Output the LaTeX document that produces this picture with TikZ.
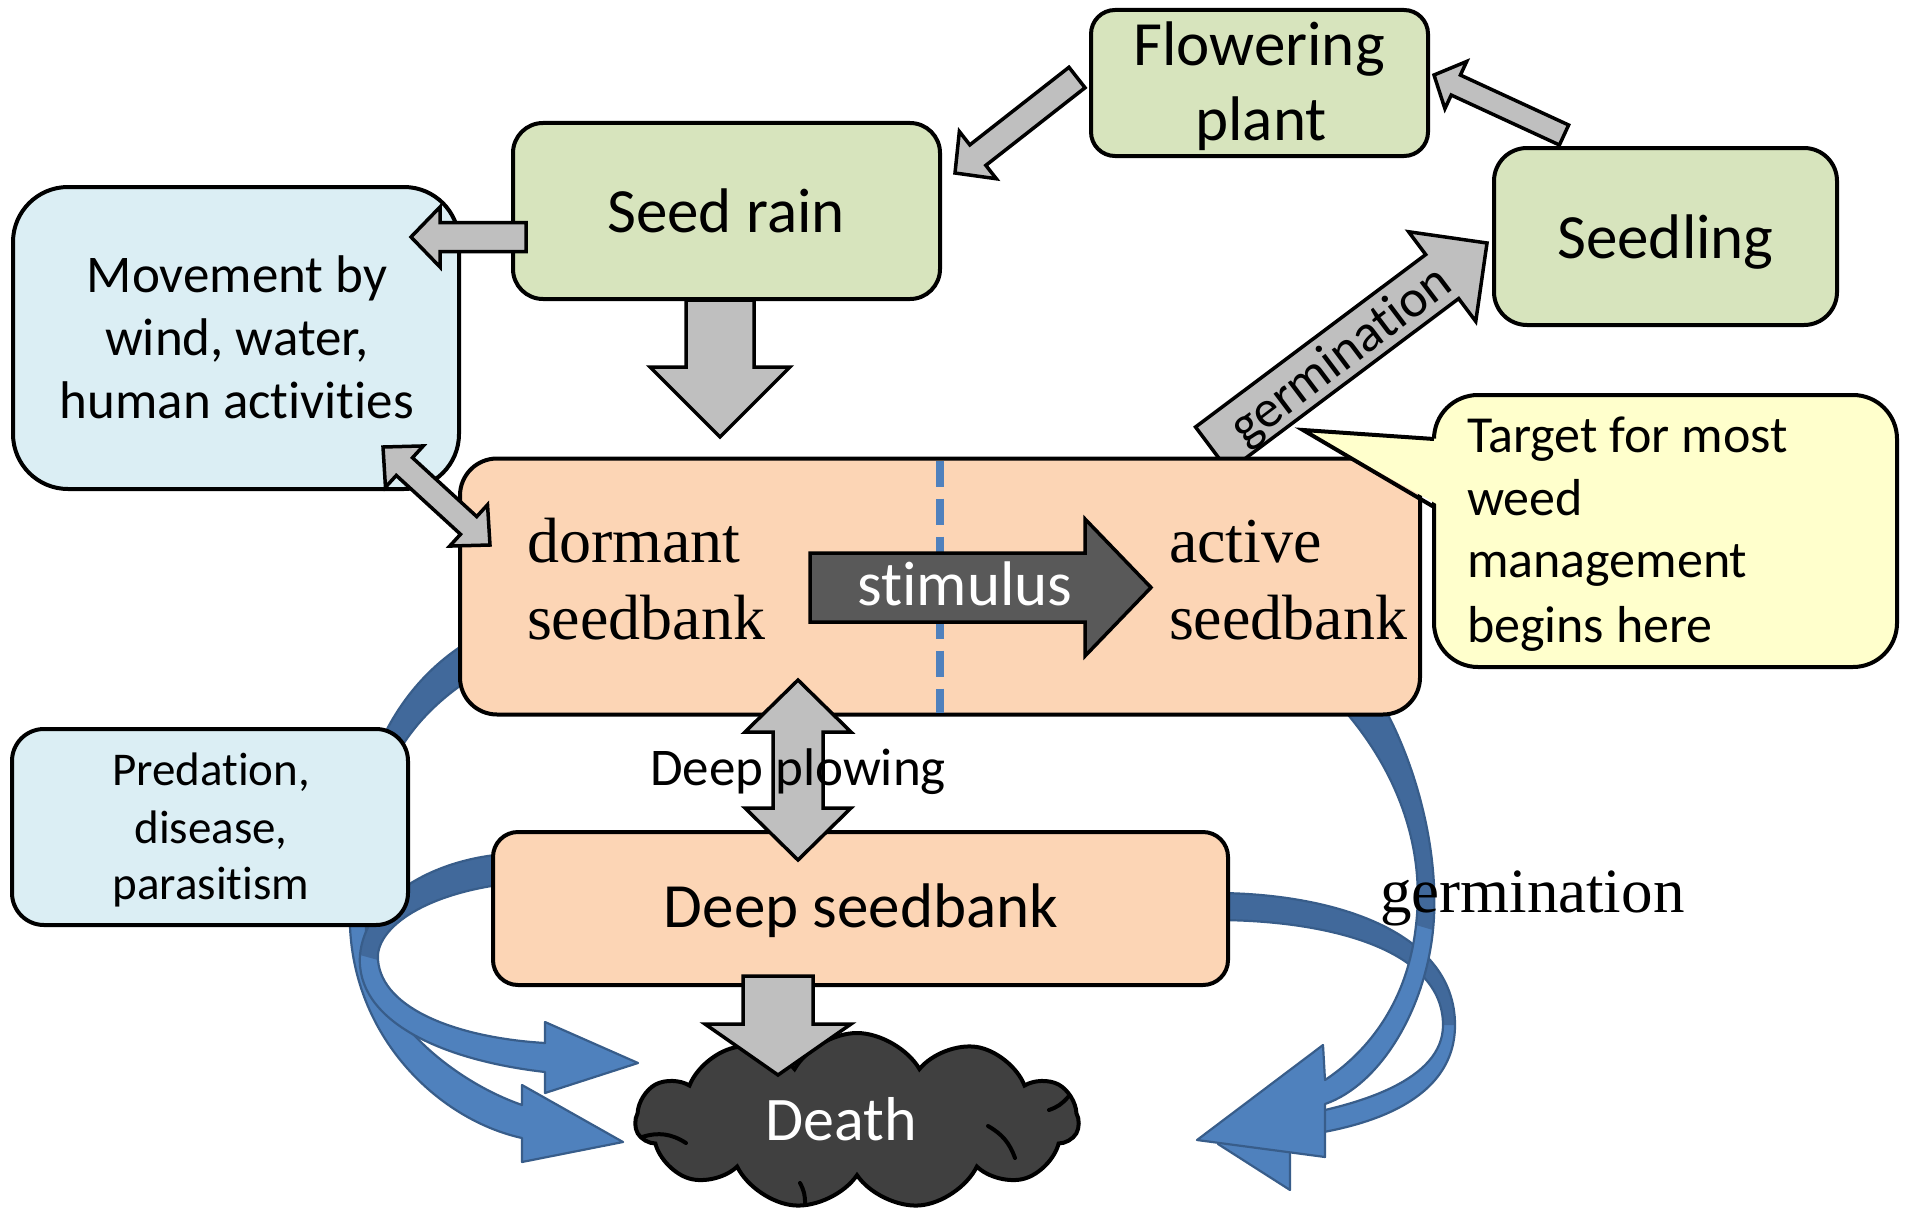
\documentclass[tikz,border=0pt]{standalone}
\usepackage{fontspec}
\setmainfont{Carlito}[Ligatures=NoCommon]
\newfontfamily\tnr{Liberation Serif}
\usetikzlibrary{calc,shapes.symbols}
\definecolor{grn}{HTML}{D7E4BD}
\definecolor{lblue}{HTML}{DBEEF4}
\definecolor{peach}{HTML}{FCD5B5}
\definecolor{lyel}{HTML}{FFFFCC}
\definecolor{gryA}{HTML}{BFBFBF}
\definecolor{dkgry}{HTML}{595959}
\definecolor{cloudc}{HTML}{404040}
\definecolor{bluF}{HTML}{4F81BD}
\definecolor{bluE}{HTML}{385D8A}
\definecolor{bluD}{HTML}{41699B}
\newcommand\fsz[1]{\fontsize{#1pt}{#1pt}\selectfont}
% block arrow: style, tail, tip, shaft half-width, head half-width, head length
\newcommand\blockarr[6]{%
  \coordinate (bahd) at ($(#3)!#6!(#2)$);
  \draw[#1] ($(#2)!#4!90:(#3)$) -- ($(bahd)!#4!90:(#3)$) -- ($(bahd)!#5!90:(#3)$) -- (#3)
    -- ($(bahd)!#5!-90:(#3)$) -- ($(bahd)!#4!-90:(#3)$) -- ($(#2)!#4!-90:(#3)$) -- cycle;}
% double block arrow: style, end A, end B, shaft half-width, head half-width, head length
\newcommand\dblarr[6]{%
  \coordinate (dahA) at ($(#2)!#6!(#3)$);
  \coordinate (dahB) at ($(#3)!#6!(#2)$);
  \draw[#1] (#2) -- ($(dahA)!#5!90:(#3)$) -- ($(dahA)!#4!90:(#3)$) -- ($(dahB)!#4!-90:(#2)$)
    -- ($(dahB)!#5!-90:(#2)$) -- (#3) -- ($(dahB)!#5!90:(#2)$) -- ($(dahB)!#4!90:(#2)$)
    -- ($(dahA)!#4!-90:(#3)$) -- ($(dahA)!#5!-90:(#3)$) -- cycle;}
% curved blue arrows
\def\pDeep{(1215,893) .. controls (1330,893) and (1455,930) .. (1455,1025) .. controls (1455,1100) and (1370,1128) .. (1290,1137) -- (1290,1190) -- (1218,1144) -- (1290,1100) -- (1290,1117) .. controls (1360,1105) and (1443,1080) .. (1443,1025) .. controls (1443,950) and (1330,920) .. (1215,920) -- cycle}
\def\pDeepBack{(1215,893) .. controls (1330,893) and (1455,930) .. (1455,1025) -- (1443,1025) .. controls (1443,950) and (1330,920) .. (1215,920) -- cycle}
\def\pGerm{(1380,700) .. controls (1420,770) and (1440,860) .. (1433,930) .. controls (1425,1010) and (1380,1085) .. (1325,1104) -- (1325,1157) -- (1197,1140) -- (1323,1045) -- (1325,1080) .. controls (1370,1050) and (1408,1000) .. (1416,925) .. controls (1425,850) and (1400,770) .. (1335,700) -- cycle}
\def\pGermBack{(1380,700) .. controls (1420,770) and (1440,860) .. (1433,930) -- (1416,925) .. controls (1425,850) and (1400,770) .. (1335,700) -- cycle}
\def\pOut{(478,636) .. controls (380,690) and (345,800) .. (350,927) .. controls (355,1040) and (440,1120) .. (522,1138) -- (522,1162) -- (623,1142) -- (522,1085) -- (522,1105) .. controls (450,1080) and (365,1010) .. (366,927) .. controls (365,830) and (370,735) .. (488,668) -- cycle}
\def\pOutBack{(478,636) .. controls (380,690) and (345,800) .. (350,927) -- (366,927) .. controls (365,830) and (370,735) .. (488,668) -- cycle}
\def\pIn{(505,884) .. controls (420,895) and (375,930) .. (378,960) .. controls (382,1010) and (460,1038) .. (545,1043) -- (545,1022) -- (638,1063) -- (545,1093) -- (545,1072) .. controls (440,1060) and (355,1020) .. (360,955) .. controls (365,900) and (430,860) .. (505,854) -- cycle}
\def\pInBack{(505,884) .. controls (420,895) and (375,930) .. (378,960) -- (360,955) .. controls (365,900) and (430,860) .. (505,854) -- cycle}
\tikzset{
  boxst/.style={rectangle, draw=black, line width=4pt, inner sep=0pt, outer sep=0pt},
  lbl/.style={inner sep=0pt, outer sep=0pt, anchor=base},
  lblw/.style={inner sep=0pt, outer sep=0pt, anchor=base west},
  grayarr/.style={draw=black, fill=gryA, line width=3.5pt, line join=miter, miter limit=20},
  stimarr/.style={draw=black, fill=dkgry, line width=3.5pt, line join=miter, miter limit=20},
  blueline/.style={draw=bluE, line width=2.2pt, line join=round},
  cloudarc/.style={draw=black, line width=4pt, line cap=round},
}
\begin{document}
\begin{tikzpicture}[x=1pt,y=-1pt]
\useasboundingbox (0,0) rectangle (1910,1212);
% ---- blue curved arrows (behind boxes)
\fill[bluF] \pDeep; \fill[bluD] \pDeepBack; \draw[blueline] \pDeep;
\fill[bluF] \pGerm; \fill[bluD] \pGermBack; \draw[blueline] \pGerm;
\fill[bluF] \pOut; \fill[bluD] \pOutBack; \draw[blueline] \pOut;
\fill[bluF] \pIn; \fill[bluD] \pInBack; \draw[blueline] \pIn;
% ---- germination block arrow (tail behind seedbank)
\coordinate (a5t) at (1212,449); \coordinate (a5h) at (1487,243);
\blockarr{grayarr}{a5t}{a5h}{27.5pt}{56pt}{56pt}
\node[font=\fsz{53}, rotate=37, inner sep=0pt] (tgerm1) at (1342,357) {germination};
% ---- boxes
\node[boxst, fill=grn, rounded corners=24pt, minimum width=337pt, minimum height=146pt] (flower) at (1259.5,83) {};
\node[boxst, fill=grn, rounded corners=33pt, minimum width=343pt, minimum height=177pt] (seedling) at (1665.5,236.5) {};
\node[boxst, fill=grn, rounded corners=30pt, minimum width=427pt, minimum height=176pt] (seedrain) at (726.5,211) {};
\node[boxst, fill=lblue, rounded corners=55pt, minimum width=446pt, minimum height=302pt] (movement) at (236,338) {};
\node[boxst, fill=peach, rounded corners=37pt, minimum width=960pt, minimum height=256pt] (seedbank) at (940,586.5) {};
\node[boxst, fill=peach, rounded corners=25pt, minimum width=735pt, minimum height=153pt] (deep) at (860.5,908.5) {};
\node[boxst, fill=lblue, rounded corners=32pt, minimum width=396pt, minimum height=196pt] (predation) at (210,827) {};
\draw[bluF, line width=8pt, dash pattern=on 26pt off 12pt] ([yshift=-2pt]seedbank.north) -- ([yshift=2pt]seedbank.south);
\node[cloud, cloud puffs=11, cloud puff arc=120, cloud ignores aspect, minimum width=443pt, minimum height=176pt, draw=black, line width=4pt, fill=cloudc, inner sep=0pt] (death) at (857,1121) {};
\draw[cloudarc] (642,1137) to[bend left=25] (686,1143);
\draw[cloudarc] (988,1126) to[bend left=20] (1015,1158);
\draw[cloudarc] (1049,1110) to[bend right=15] (1068,1097);
\draw[cloudarc] (800,1183) to[bend left=15] (805,1204);
% ---- box texts
\node[lbl, font=\fsz{63}] (tflower1) at (1259,66) {Flowering};
\node[lbl, font=\fsz{63}] (tflower2) at (1261,140) {plant};
\node[lbl, font=\fsz{63}] (tseedrain) at (726,232) {Seed rain};
\node[lbl, font=\fsz{63}] (tseedling) at (1665.5,258) {Seedling};
\node[lbl, font=\fsz{53}] (tmov1) at (237,292) {Movement by};
\node[lbl, font=\fsz{53}] (tmov2) at (237,355) {wind, water,};
\node[lbl, font=\fsz{53}] (tmov3) at (237,418) {human activities};
\node[lblw, font=\tnr\fsz{64}] (tdorm1) at (527,562) {dormant};
\node[lblw, font=\tnr\fsz{64}] (tdorm2) at (527,639) {seedbank};
\node[lblw, font=\tnr\fsz{64}] (tact1) at (1169,562) {active};
\node[lblw, font=\tnr\fsz{64}] (tact2) at (1169,639) {seedbank};
\node[lbl, font=\fsz{63}] (tdeep) at (861,927) {Deep seedbank};
\node[lbl, font=\fsz{47}] (tpred1) at (211,785) {Predation,};
\node[lbl, font=\fsz{47}] (tpred2) at (211,843) {disease,};
\node[lbl, font=\fsz{47}] (tpred3) at (211,899) {parasitism};
% ---- gray block arrows
\coordinate (a1t) at (720,300); \coordinate (a1h) at (720,437);
\blockarr{grayarr}{a1t}{a1h}{34pt}{70pt}{70pt}
\coordinate (a2t) at (526,237); \coordinate (a2h) at (411,237);
\blockarr{grayarr}{a2t}{a2h}{14.5pt}{30pt}{29pt}
\coordinate (a3t) at (1077,77.5); \coordinate (a3h) at (955,173);
\blockarr{grayarr}{a3t}{a3h}{13pt}{30pt}{29pt}
\coordinate (a4t) at (1564,135); \coordinate (a4h) at (1434,75);
\blockarr{grayarr}{a4t}{a4h}{11pt}{26pt}{24pt}
\coordinate (d1a) at (383,447); \coordinate (d1b) at (490,545);
\dblarr{grayarr}{d1a}{d1b}{12pt}{28pt}{29pt}
\coordinate (d2a) at (798,680); \coordinate (d2b) at (798,860);
\dblarr{grayarr}{d2a}{d2b}{25pt}{53pt}{52pt}
\coordinate (a6t) at (778,976); \coordinate (a6h) at (778,1075);
\blockarr{grayarr}{a6t}{a6h}{35pt}{73pt}{51pt}
% ---- stimulus arrow
\coordinate (stt) at (810,587.5); \coordinate (sth) at (1151,587.5);
\blockarr{stimarr}{stt}{sth}{34.5pt}{68.5pt}{66pt}
\node[lbl, font=\fsz{63}, text=white] (tstim) at (965,605) {stimulus};
% ---- callout
\node[boxst, fill=lyel, rounded corners=44pt, minimum width=463pt, minimum height=272pt] (callout) at (1665.5,531) {};
\coordinate (ctip) at (1303,430);
\fill[lyel] (ctip) -- (1442,439) -- (1442,507) -- cycle;
\draw[line width=4pt, line join=miter, miter limit=20] (1434,439) -- (ctip) -- (1434,507);
\node[lblw, font=\fsz{52}] (tcall1) at (1467,452) {Target for most};
\node[lblw, font=\fsz{52}] (tcall2) at (1467,515) {weed};
\node[lblw, font=\fsz{52}] (tcall3) at (1467,577) {management};
\node[lblw, font=\fsz{52}] (tcall4) at (1467,642) {begins here};
% ---- free labels
\node[lbl, font=\fsz{53}] (tplow) at (798,785) {Deep plowing};
\node[lblw, font=\tnr\fsz{63}] (tgerm2) at (1380,912) {germination};
\node[lbl, font=\fsz{62}, text=white] (tdeath) at (841,1140) {Death};
\end{tikzpicture}
\end{document}
